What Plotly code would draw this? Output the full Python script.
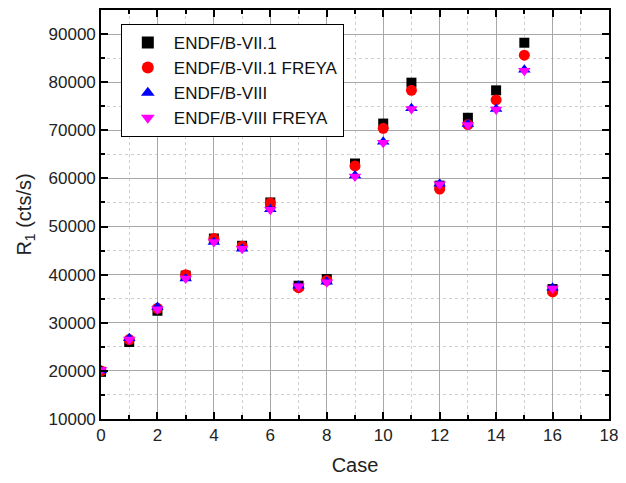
import plotly.graph_objects as go

cases = list(range(17))
endf71 = [19800, 26000, 32500, 39800, 47500, 46000, 55000, 37700, 39100, 63100, 71400, 79900, 58500, 72600, 78300, 88200, 37000]
endf71_freya = [20000, 26500, 33000, 40000, 47500, 45900, 54900, 37300, 38800, 62600, 70400, 78300, 57800, 71200, 76300, 85600, 36400]
endf8 = [20100, 26800, 33300, 39200, 46800, 45400, 53600, 37700, 38500, 60600, 67600, 74600, 58900, 71300, 74400, 82600, 37300]
endf8_freya = [20200, 26500, 32800, 39200, 46800, 45400, 53500, 37600, 38400, 60400, 67400, 74400, 58800, 71100, 74300, 82400, 37100]

series = [
    ("ENDF/B-VII.1", endf71, "square", "black", 10),
    ("ENDF/B-VII.1 FREYA", endf71_freya, "circle", "red", 11),
    ("ENDF/B-VIII", endf8, "triangle-up", "blue", 11),
    ("ENDF/B-VIII FREYA", endf8_freya, "triangle-down", "magenta", 11),
]

FONT = "Arial, Liberation Sans"

fig = go.Figure()
for name, vals, sym, col, sz in series:
    fig.add_trace(go.Scatter(
        x=cases, y=vals, mode="markers", name=name,
        marker=dict(symbol=sym, color=col, size=sz, line=dict(width=0)),
    ))

axis_common = dict(
    showline=True, linecolor="black", linewidth=1.6, mirror="ticks",
    ticks="inside", ticklen=7, tickwidth=1.6, tickcolor="black",
    showgrid=True, gridcolor="#a8a8a8", gridwidth=1.2, zeroline=False,
    tickfont=dict(family=FONT, size=17, color="#222"),
)

fig.update_xaxes(
    range=[0, 18], tick0=0, dtick=2, tickformat="d",
    minor=dict(dtick=1, ticks="inside", ticklen=4, tickcolor="black",
               showgrid=True, gridcolor="#cfcfcf", griddash="dot", gridwidth=1),
    title=dict(text="Case", font=dict(family=FONT, size=20, color="#222"), standoff=14),
    **axis_common,
)
fig.update_yaxes(
    range=[10000, 95000], tick0=10000, dtick=10000, tickformat="d",
    minor=dict(dtick=5000, tick0=10000, ticks="inside", ticklen=4, tickcolor="black",
               showgrid=True, gridcolor="#cfcfcf", griddash="dot", gridwidth=1),
    title=dict(text="R<sub>1</sub> (cts/s)", font=dict(family=FONT, size=20, color="#222"), standoff=12),
    **axis_common,
)

fig.update_layout(
    width=626, height=483,
    margin=dict(l=101, r=13, t=8, b=64),
    paper_bgcolor="white", plot_bgcolor="white",
    showlegend=True,
    legend=dict(
        x=0.039, y=0.966, xanchor="left", yanchor="top",
        bgcolor="white", bordercolor="black", borderwidth=1,
        font=dict(family=FONT, size=17, color="#111"),
        itemwidth=42, tracegroupgap=0, itemsizing="constant",
    ),
)

fig.write_html("out.html")
